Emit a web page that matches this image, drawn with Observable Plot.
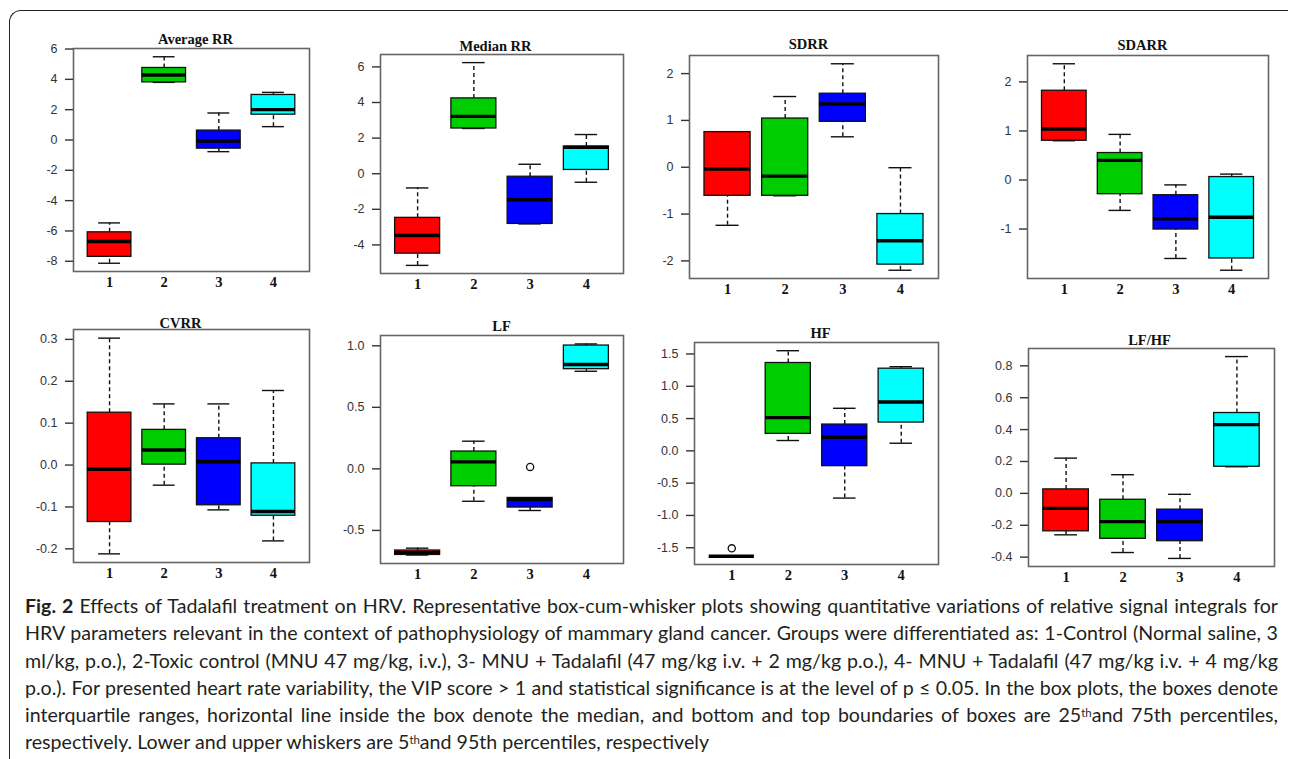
<!DOCTYPE html>
<html>
<head>
<meta charset="utf-8">
<script src="https://cdn.jsdelivr.net/npm/d3@7"></script>
<script src="https://cdn.jsdelivr.net/npm/@observablehq/plot@0.6"></script>
<style>
  html, body { margin: 0; padding: 0; background: #fff; }
  #page { position: relative; width: 1290px; height: 759px; overflow: hidden; background: #fff; }
  .panel { position: absolute; }
  #border { position: absolute; left: 9px; top: 10px; width: 1279px; height: 760px;
    border-left: 1.5px solid #222; border-top: 1.5px solid #222; border-top-left-radius: 12px; box-sizing: border-box; }
  #caption { position: absolute; left: 25px; top: 592px; width: 1253px;
    font-family: "Lato", "Open Sans", sans-serif; font-size: 17.5px; line-height: 27.3px; color: #231f20; }
  #caption .ln { white-space: nowrap; text-align: justify; text-align-last: justify; }
  #caption .ln.last { text-align-last: left; }
  #caption sup { font-size: 0.58em; line-height: 0; vertical-align: 0.42em; }
</style>
</head>
<body>
<div id="page">
  <div id="border"></div>
  <div id="caption">
    <div class="ln"><b>Fig. 2</b> Effects of Tadalafil treatment on HRV. Representative box-cum-whisker plots showing quantitative variations of relative signal integrals for</div>
    <div class="ln">HRV parameters relevant in the context of pathophysiology of mammary gland cancer. Groups were differentiated as: 1-Control (Normal saline, 3</div>
    <div class="ln">ml/kg, p.o.), 2-Toxic control (MNU 47 mg/kg, i.v.), 3- MNU + Tadalafil (47 mg/kg i.v. + 2 mg/kg p.o.), 4- MNU + Tadalafil (47 mg/kg i.v. + 4 mg/kg</div>
    <div class="ln">p.o.). For presented heart rate variability, the VIP score &gt; 1 and statistical significance is at the level of p ≤ 0.05. In the box plots, the boxes denote</div>
    <div class="ln">interquartile ranges, horizontal line inside the box denote the median, and bottom and top boundaries of boxes are 25<sup>th</sup>and 75th percentiles,</div>
    <div class="ln last">respectively. Lower and upper whiskers are 5<sup>th</sup>and 95th percentiles, respectively</div>
  </div>
</div>
<script>
// ---------- data ----------
const groups = [1, 2, 3, 4];
const groupColors = ["#FF0000", "#00CD00", "#0000FF", "#00FFFF"];

// each row: group, lower whisker, 25th pct, median, 75th pct, upper whisker
const averageRR = [
  {group: 1, lo: -8.13, q1: -7.71, median: -6.70, q3: -6.09, hi: -5.47},
  {group: 2, lo: 3.80, q1: 3.80, median: 4.29, q3: 4.75, hi: 5.49},
  {group: 3, lo: -0.77, q1: -0.57, median: -0.07, q3: 0.62, hi: 1.78},
  {group: 4, lo: 0.88, q1: 1.67, median: 2.00, q3: 2.97, hi: 3.14}
];
const medianRR = [
  {group: 1, lo: -5.15, q1: -4.49, median: -3.47, q3: -2.48, hi: -0.80},
  {group: 2, lo: 2.54, q1: 2.54, median: 3.22, q3: 4.23, hi: 6.24},
  {group: 3, lo: -2.82, q1: -2.82, median: -1.46, q3: -0.17, hi: 0.53},
  {group: 4, lo: -0.48, q1: 0.21, median: 1.48, q3: 1.53, hi: 2.20}
];
const sdrr = [
  {group: 1, lo: -1.24, q1: -0.61, median: -0.04, q3: 0.75, hi: 0.75},
  {group: 2, lo: -0.61, q1: -0.61, median: -0.19, q3: 1.04, hi: 1.51},
  {group: 3, lo: 0.65, q1: 0.97, median: 1.35, q3: 1.57, hi: 2.21},
  {group: 4, lo: -2.20, q1: -2.08, median: -1.57, q3: -1.00, hi: -0.01}
];
const sdarr = [
  {group: 1, lo: 0.80, q1: 0.80, median: 1.04, q3: 1.82, hi: 2.37},
  {group: 2, lo: -0.62, q1: -0.29, median: 0.40, q3: 0.55, hi: 0.93},
  {group: 3, lo: -1.60, q1: -1.01, median: -0.79, q3: -0.31, hi: -0.10},
  {group: 4, lo: -1.84, q1: -1.60, median: -0.76, q3: 0.06, hi: 0.12}
];
const cvrr = [
  {group: 1, lo: -0.212, q1: -0.136, median: -0.010, q3: 0.125, hi: 0.303},
  {group: 2, lo: -0.048, q1: 0.001, median: 0.036, q3: 0.084, hi: 0.146},
  {group: 3, lo: -0.107, q1: -0.096, median: 0.008, q3: 0.064, hi: 0.146},
  {group: 4, lo: -0.181, q1: -0.121, median: -0.111, q3: 0.004, hi: 0.178}
];
const lf = [
  {group: 1, lo: -0.700, q1: -0.699, median: -0.680, q3: -0.663, hi: -0.644},
  {group: 2, lo: -0.263, q1: -0.141, median: 0.057, q3: 0.141, hi: 0.225},
  {group: 3, lo: -0.338, q1: -0.314, median: -0.249, q3: -0.236, hi: -0.236},
  {group: 4, lo: 0.793, q1: 0.810, median: 0.848, q3: 1.002, hi: 1.015}
];
const lfOutliers = [{group: 3, value: 0.016}];
const hf = [
  {group: 1, lo: -1.632, q1: -1.632, median: -1.632, q3: -1.632, hi: -1.632},
  {group: 2, lo: 0.160, q1: 0.263, median: 0.515, q3: 1.360, hi: 1.550},
  {group: 3, lo: -0.731, q1: -0.237, median: 0.211, q3: 0.407, hi: 0.659},
  {group: 4, lo: 0.118, q1: 0.438, median: 0.757, q3: 1.272, hi: 1.303}
];
const hfOutliers = [{group: 1, value: -1.509}];
const lfhf = [
  {group: 1, lo: -0.260, q1: -0.238, median: -0.094, q3: 0.025, hi: 0.221},
  {group: 2, lo: -0.371, q1: -0.285, median: -0.177, q3: -0.040, hi: 0.117},
  {group: 3, lo: -0.408, q1: -0.300, median: -0.177, q3: -0.102, hi: -0.006},
  {group: 4, lo: 0.167, q1: 0.167, median: 0.431, q3: 0.504, hi: 0.858}
];

// tick labels
const avgTicks = [-8, -6, -4, -2, 0, 2, 4, 6];
const medTicks = [-4, -2, 0, 2, 4, 6];
const sdrrTicks = [-2, -1, 0, 1, 2];
const sdarrTicks = [-1, 0, 1, 2];
const cvrrTicks = [-0.2, -0.1, 0.0, 0.1, 0.2, 0.3];
const lfTicks = [-0.5, 0.0, 0.5, 1.0];
const hfTicks = [-1.5, -1.0, -0.5, 0.0, 0.5, 1.0, 1.5];
const lfhfTicks = [-0.4, -0.2, 0.0, 0.2, 0.4, 0.6, 0.8];

const titles = ["Average RR", "Median RR", "SDRR", "SDARR", "CVRR", "LF", "HF", "LF/HF"];

// ---------- layout (frame position in page px, title centre) ----------
const panels = [
  {title: titles[0], data: averageRR, outliers: [], ticks: avgTicks, dec: 0, fx: 73, fy: 48, fw: 236, fh: 223, tx: 195, ty: 33},
  {title: titles[1], data: medianRR, outliers: [], ticks: medTicks, dec: 0, fx: 380, fy: 54, fw: 243, fh: 219, tx: 495, ty: 40},
  {title: titles[2], data: sdrr, outliers: [], ticks: sdrrTicks, dec: 0, fx: 689, fy: 55, fw: 249, fh: 223, tx: 808, ty: 38},
  {title: titles[3], data: sdarr, outliers: [], ticks: sdarrTicks, dec: 0, fx: 1027, fy: 55, fw: 241, fh: 223, tx: 1142, ty: 39},
  {title: titles[4], data: cvrr, outliers: [], ticks: cvrrTicks, dec: 1, fx: 73, fy: 329, fw: 236, fh: 233, tx: 180, ty: 317},
  {title: titles[5], data: lf, outliers: lfOutliers, ticks: lfTicks, dec: 1, fx: 380, fy: 335, fw: 243, fh: 228, tx: 501, ty: 320},
  {title: titles[6], data: hf, outliers: hfOutliers, ticks: hfTicks, dec: 1, fx: 694, fy: 342, fw: 244, fh: 222, tx: 820, ty: 327},
  {title: titles[7], data: lfhf, outliers: [], ticks: lfhfTicks, dec: 1, fx: 1028, fy: 348, fw: 246, fh: 218, tx: 1149, ty: 334}
];

const ML = 55, MT = 40, MR = 8, MB = 30;
const page = document.getElementById("page");

for (const p of panels) {
  const vals = p.data.flatMap(d => [d.lo, d.hi]).concat(p.outliers.map(o => o.value));
  const mn = d3.min(vals), mx = d3.max(vals), pad = (mx - mn) * 0.04;
  const n = groups.length;
  const xpad = n * 0.04;
  const svg = Plot.plot({
    width: p.fw + ML + MR,
    height: p.fh + MT + MB,
    marginLeft: ML, marginTop: MT, marginRight: MR, marginBottom: MB,
    style: {background: "transparent", overflow: "visible"},
    x: {domain: [0.5 - xpad, n + 0.5 + xpad], axis: null},
    y: {domain: [mn - pad, mx + pad], axis: null},
    color: {domain: groups, range: groupColors},
    marks: [
      Plot.ruleX(p.data, {x: "group", y1: "q3", y2: "hi", stroke: "#111", strokeWidth: 1.4, strokeDasharray: "4,3"}),
      Plot.ruleX(p.data, {x: "group", y1: "lo", y2: "q1", stroke: "#111", strokeWidth: 1.4, strokeDasharray: "4,3"}),
      Plot.ruleY(p.data, {y: "hi", x1: d => d.group - 0.2, x2: d => d.group + 0.2, stroke: "#111", strokeWidth: 1.4}),
      Plot.ruleY(p.data, {y: "lo", x1: d => d.group - 0.2, x2: d => d.group + 0.2, stroke: "#111", strokeWidth: 1.4}),
      Plot.rect(p.data, {x1: d => d.group - 0.4, x2: d => d.group + 0.4, y1: "q1", y2: "q3", fill: "group", stroke: "#111", strokeWidth: 1.3}),
      Plot.ruleY(p.data, {y: "median", x1: d => d.group - 0.4, x2: d => d.group + 0.4, stroke: "#000", strokeWidth: 3.4}),
      Plot.dot(p.outliers, {x: "group", y: "value", r: 3.6, stroke: "#111", strokeWidth: 1.3, fill: "white"}),
      Plot.frame({stroke: "#666", strokeWidth: 1.6}),
      Plot.axisY({ticks: p.ticks, tickSize: 8, tickPadding: 8, tickFormat: d => d.toFixed(p.dec), label: null,
        fontSize: 12.5, fontFamily: "Liberation Sans, Arial, sans-serif", color: "#333", strokeWidth: 1.4}),
      Plot.axisX({ticks: groups, tickSize: 0, tickPadding: 5, tickFormat: d => String(d), label: null,
        fontSize: 14.5, fontFamily: "Liberation Serif, Times New Roman, serif", fontWeight: "bold", color: "#111"}),
      Plot.text([p.title], {frameAnchor: "top", dx: p.tx - (p.fx + p.fw / 2), dy: p.ty - p.fy,
        fontSize: 14.5, fontWeight: "bold", fontFamily: "Liberation Serif, Times New Roman, serif", fill: "#111"})
    ]
  });
  svg.classList.add("panel");
  svg.style.left = (p.fx - ML) + "px";
  svg.style.top = (p.fy - MT) + "px";
  page.appendChild(svg);
}

// fit caption font size so the longest justified line nearly fills the width
(function fitCaption() {
  const cap = document.getElementById("caption");
  const lines = Array.from(cap.querySelectorAll(".ln:not(.last)"));
  const target = 1250;
  function maxNatural() {
    let m = 0;
    for (const ln of lines) {
      const s = document.createElement("span");
      s.style.whiteSpace = "nowrap";
      s.innerHTML = ln.innerHTML;
      s.style.position = "absolute";
      s.style.visibility = "hidden";
      cap.appendChild(s);
      m = Math.max(m, s.getBoundingClientRect().width);
      s.remove();
    }
    return m;
  }
  let fs = 17.5;
  for (let i = 0; i < 4; i++) {
    const w = maxNatural();
    fs = fs * target / w;
    cap.style.fontSize = fs.toFixed(2) + "px";
  }
  if (maxNatural() > target) cap.style.fontSize = (fs - 0.1).toFixed(2) + "px";
})();
</script>
</body>
</html>
